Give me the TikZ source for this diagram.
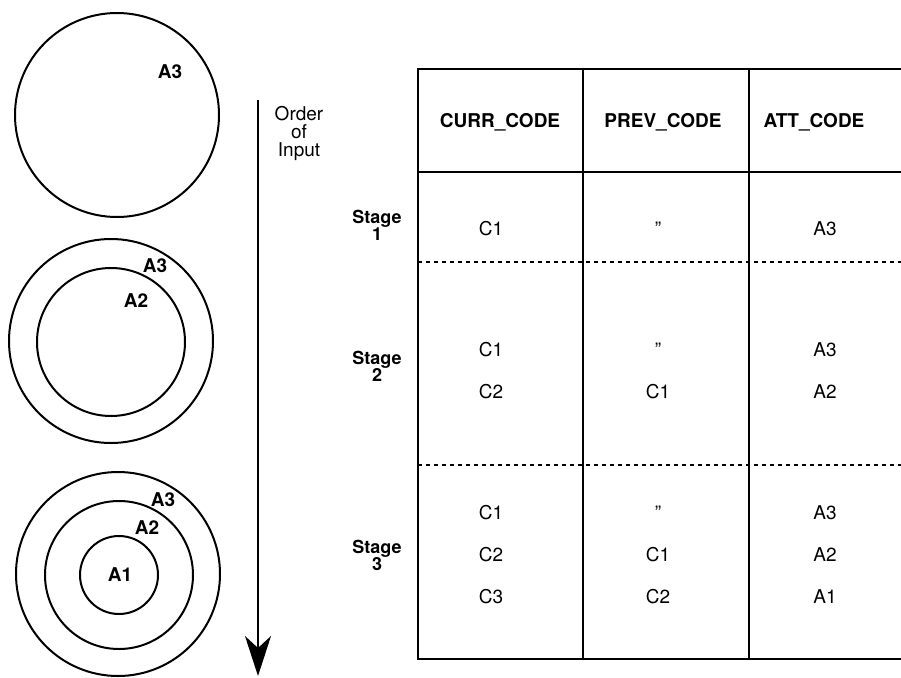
\documentclass[tikz,border=0pt]{standalone}
\usepackage{fontspec}
\setmainfont{TeX Gyre Heros}
\usetikzlibrary{arrows.meta}

\begin{document}
\begin{tikzpicture}[
    x=1pt, y=-1pt,
    ring/.style     = {circle, draw=black, line width=2pt, inner sep=0pt},
    tag/.style      = {font=\bfseries\fontsize{19}{19}\selectfont, inner sep=0pt},
    head/.style     = {font=\bfseries\fontsize{19}{19}\selectfont, inner sep=0pt},
    cell/.style     = {font=\fontsize{19}{19}\selectfont, inner sep=0pt, text height=13.5pt, text depth=0pt},
    stagelbl/.style = {font=\bfseries\fontsize{18}{17}\selectfont, align=center, inner sep=0pt},
    order/.style    = {font=\fontsize{19}{18}\selectfont, align=center, inner sep=0pt},
    rule/.style     = {line width=2.2pt},
    sep/.style      = {line width=1.8pt, dash pattern=on 4pt off 4pt},
    >={Stealth[length=40pt, width=26pt, inset=12pt]}
]
\useasboundingbox (0,0) rectangle (901,677);

% first input: one set
\node[ring, minimum size=204pt] (o1) at (117,115) {};
\node[tag] (o1a3) at (170,72) {A3};

% second input: two sets
\node[ring, minimum size=204pt] (t1) at (111,341) {};
\node[ring, minimum size=148pt] (t2) at (111,342) {};
\node[tag] (t1a3) at (155,266) {A3};
\node[tag] (t2a2) at (136,301) {A2};

% third input: three sets
\node[ring, minimum size=204pt] (h1) at (118,574) {};
\node[ring, minimum size=148pt] (h2) at (119,575) {};
\node[ring, minimum size=78pt]  (h3) at (119,575) {};
\node[tag] (h1a3) at (163,500) {A3};
\node[tag] (h2a2) at (147,528) {A2};
\node[tag] (h3a1) at (120,575) {A1};

% order of input
\coordinate (ordtop) at (258,100);
\coordinate (ordend) at (258,676);
\draw[->, line width=1.8pt] (ordtop) -- (ordend);
\node[order] (ordlbl) at (299,133) {Order\\of\\Input};

% table frame, open at the right
\draw[rule] (901,69) -- (418,69) -- (418,659) -- (901,659);
\draw[rule] (418,172) -- (901,172);
\draw[rule] (583,69) -- (583,659);
\draw[rule] (749,69) -- (749,659);
\draw[sep] (418,262) -- (901,262);
\draw[sep] (418,465) -- (901,465);

% headings
\node[head] (hcurr) at (500,122) {CURR\_CODE};
\node[head] (hprev) at (663,122) {PREV\_CODE};
\node[head] (hatt)  at (814,122) {ATT\_CODE};

% stages
\node[stagelbl] (stage1) at (377,225) {Stage\\1};
\node[stagelbl] (stage2) at (377,366) {Stage\\2};
\node[stagelbl] (stage3) at (377,555) {Stage\\3};

% rows
\foreach \y/\a/\b/\c in {229/C1/{"}/A3, 350/C1/{"}/A3, 392/C2/C1/A2,
                         513/C1/{"}/A3, 555/C2/C1/A2, 597/C3/C2/A1}
{
    \node[cell] (curr\y) at (491,\y) {\a};
    \node[cell] (prev\y) at (658,\y) {\b};
    \node[cell] (att\y)  at (825,\y) {\c};
}

\end{tikzpicture}
\end{document}
